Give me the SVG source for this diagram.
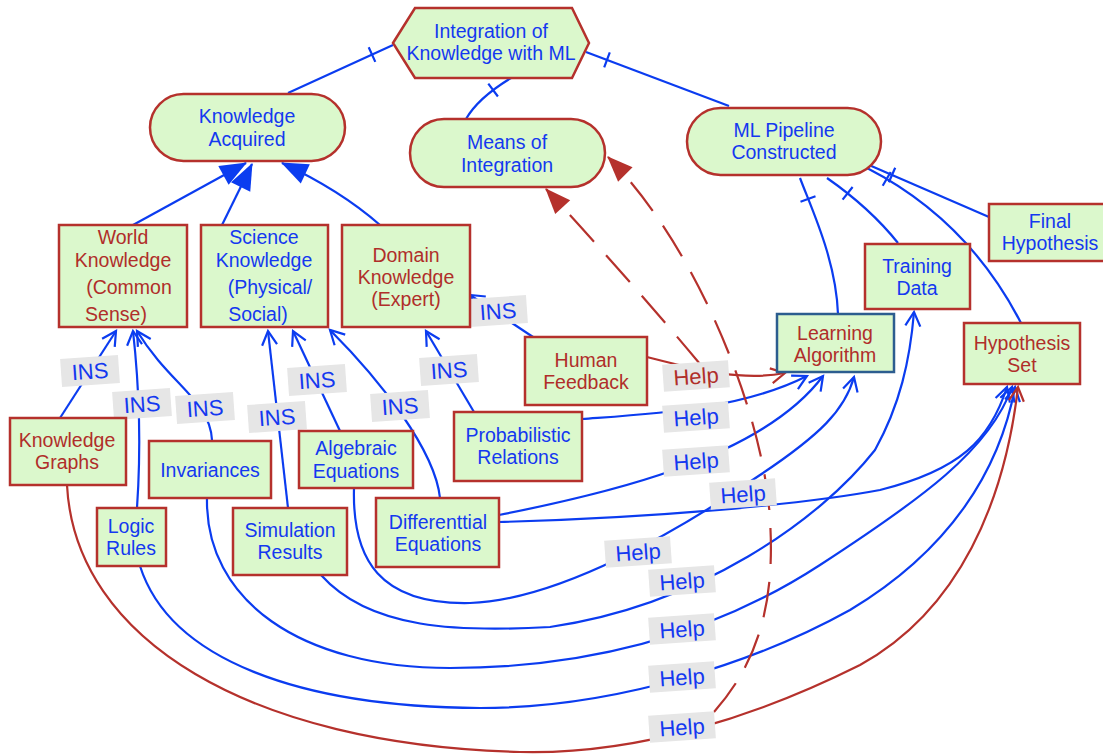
<svg xmlns="http://www.w3.org/2000/svg" width="1103" height="754" viewBox="0 0 1103 754">
<style>
.n rect,.n polygon{fill:#dbf8cc;stroke:#b5312c;stroke-width:2.5}
text{font-family:"Liberation Sans",Arial,Helvetica,sans-serif;font-size:19.5px;text-anchor:middle}
.b{fill:#1438f0}
.r{fill:#b02e2a}
.e{fill:none;stroke:#0b3cf0;stroke-width:2.2}
.er{fill:none;stroke:#b5312c;stroke-width:2.2}
.d{fill:none;stroke:#b5312c;stroke-width:2.2;stroke-dasharray:36 18}
.lab rect{fill:#e6e6e6}
.lab text{font-size:22px}
</style>
<defs>
<marker id="fb" markerUnits="userSpaceOnUse" orient="auto" refX="0" refY="0" markerWidth="30" markerHeight="30" viewBox="-26 -12 28 24" overflow="visible"><path d="M1,0 L-24,-10 L-24,10 Z" fill="#0b3cf0"/></marker>
<marker id="ob" markerUnits="userSpaceOnUse" orient="auto" refX="0" refY="0" markerWidth="20" markerHeight="20" viewBox="-16 -10 18 20" overflow="visible"><path d="M-14,-7.5 L0,0 L-14,7.5" fill="none" stroke="#0b3cf0" stroke-width="2.2"/></marker>
<marker id="or" markerUnits="userSpaceOnUse" orient="auto" refX="0" refY="0" markerWidth="20" markerHeight="20" viewBox="-16 -10 18 20" overflow="visible"><path d="M-14,-7.5 L0,0 L-14,7.5" fill="none" stroke="#b5312c" stroke-width="2.2"/></marker>
<marker id="fr" markerUnits="userSpaceOnUse" orient="auto" refX="0" refY="0" markerWidth="30" markerHeight="30" viewBox="-26 -12 28 24" overflow="visible"><path d="M1,0 L-23,-9.5 L-23,9.5 Z" fill="#b5312c"/></marker>
</defs>

<g id="connectors">
<path class="e" d="M393,45 L288,93"/>
<path class="e" d="M511,78 Q478,98 466,119"/>
<path class="e" d="M586,52 L729,106"/>
<path class="e" d="M800,178 C812,210 836,260 838,314"/>
<path class="e" d="M827,178 Q870,208 898,243"/>
<path class="e" d="M867,168 Q968,220 1021,323"/>
<path class="e" d="M869,165 L989,217"/>
<path class="e" d="M368.7,47.3 L375.3,61.9 M488.3,83.7 L497.9,96.5 M609.8,52.4 L604.2,67.4 M800.5,201.8 L815.5,196.2 M842.6,199.6 L852.6,187 M882.7,185.8 L890.7,172 M888.8,182.3 L895.2,167.7"/>

<path class="e" d="M133,225 L246,163" marker-end="url(#fb)"/>
<path class="e" d="M222,225 L252,164" marker-end="url(#fb)"/>
<path class="e" d="M380,225 Q340,190 282,163" marker-end="url(#fb)"/>

<path class="e" d="M60,418 L116,331" marker-end="url(#ob)"/>
<path class="e" d="M137,508 Q143,420 133,331" marker-end="url(#ob)"/>
<path class="e" d="M212,440 C210,400 170,385 137,331" marker-end="url(#ob)"/>
<path class="e" d="M288,508 L268,331" marker-end="url(#ob)"/>
<path class="e" d="M340,431 L293,331" marker-end="url(#ob)"/>
<path class="e" d="M440,498 C435,450 380,380 330,330" marker-end="url(#ob)"/>
<path class="e" d="M474,412 L426,331" marker-end="url(#ob)"/>
<path class="e" d="M533,337 L470,295" marker-end="url(#ob)"/>

<path class="er" d="M647,357 C690,368 740,382 785,373" marker-end="url(#or)"/>
<path class="e" d="M582,419 C650,414 740,410 807,376" marker-end="url(#ob)"/>
<path class="e" d="M499,515 C600,495 760,460 823,376" marker-end="url(#ob)"/>
<path class="e" d="M354,488 C352,560 380,605 470,603 C560,600 680,530 760,475 C820,435 845,410 854,377" marker-end="url(#ob)"/>
<path class="e" d="M321,575 C370,630 460,632 550,627 C700,605 820,520 875,450 C900,405 910,360 914,312" marker-end="url(#ob)"/>
<path class="e" d="M499,522 C650,518 800,505 880,490 C960,470 990,440 1007,387" marker-end="url(#ob)"/>
<path class="e" d="M207,498 C205,600 300,668 450,668 C600,668 720,630 820,565 C920,500 990,450 1012,387" marker-end="url(#ob)"/>
<path class="e" d="M140,566 C170,660 300,707 480,708 C620,708 760,660 850,610 C950,550 1000,470 1015,387" marker-end="url(#ob)"/>
<path class="er" d="M67,485 C75,640 250,745 520,752 C640,755 760,715 860,665 C960,610 1005,500 1018,387" marker-end="url(#or)"/>

<path class="d" d="M700,364 Q630,280 546,189" marker-end="url(#fr)"/>
<path class="d" d="M714,712 C760,660 775,600 770,520 C765,420 700,250 608,157" marker-end="url(#fr)"/>
</g>

<g id="labels" class="lab">
<g transform="translate(90,371) rotate(-4)"><rect x="-29" y="-14" width="58" height="28"/><text class="b" y="8">INS</text></g>
<g transform="translate(142,404) rotate(-4)"><rect x="-29" y="-14" width="58" height="28"/><text class="b" y="8">INS</text></g>
<g transform="translate(205,408) rotate(-4)"><rect x="-29" y="-14" width="58" height="28"/><text class="b" y="8">INS</text></g>
<g transform="translate(277,417) rotate(-4)"><rect x="-29" y="-14" width="58" height="28"/><text class="b" y="8">INS</text></g>
<g transform="translate(317,380) rotate(-4)"><rect x="-29" y="-14" width="58" height="28"/><text class="b" y="8">INS</text></g>
<g transform="translate(400,406) rotate(-4)"><rect x="-29" y="-14" width="58" height="28"/><text class="b" y="8">INS</text></g>
<g transform="translate(449,370) rotate(-4)"><rect x="-29" y="-14" width="58" height="28"/><text class="b" y="8">INS</text></g>
<g transform="translate(498,311) rotate(-4)"><rect x="-29" y="-14" width="58" height="28"/><text class="b" y="8">INS</text></g>

<g transform="translate(696,376) rotate(-4)"><rect x="-33" y="-13.5" width="66" height="27"/><text class="r" y="8">Help</text></g>
<g transform="translate(696,417) rotate(-4)"><rect x="-33" y="-13.5" width="66" height="27"/><text class="b" y="8">Help</text></g>
<g transform="translate(696,461) rotate(-4)"><rect x="-33" y="-13.5" width="66" height="27"/><text class="b" y="8">Help</text></g>
<g transform="translate(743,494) rotate(-4)"><rect x="-33" y="-13.5" width="66" height="27"/><text class="b" y="8">Help</text></g>
<g transform="translate(638,552) rotate(-4)"><rect x="-33" y="-13.5" width="66" height="27"/><text class="b" y="8">Help</text></g>
<g transform="translate(682,581) rotate(-4)"><rect x="-33" y="-13.5" width="66" height="27"/><text class="b" y="8">Help</text></g>
<g transform="translate(682,629) rotate(-4)"><rect x="-33" y="-13.5" width="66" height="27"/><text class="b" y="8">Help</text></g>
<g transform="translate(682,677) rotate(-4)"><rect x="-33" y="-13.5" width="66" height="27"/><text class="b" y="8">Help</text></g>
<g transform="translate(682,727) rotate(-4)"><rect x="-33" y="-13.5" width="66" height="27"/><text class="b" y="8">Help</text></g>
</g>

<g id="integration" class="n"><polygon points="393,43 415,8 572,8 589,43 572,78 415,78"/><text class="b" x="491" y="38">Integration of</text><text class="b" x="491" y="60">Knowledge with ML</text></g>
<g id="knowledge-acquired" class="n"><rect x="150" y="94" width="195" height="67" rx="33.5"/><text class="b" x="247" y="123">Knowledge</text><text class="b" x="247" y="146">Acquired</text></g>
<g id="means" class="n"><rect x="410" y="119" width="195" height="68" rx="34"/><text class="b" x="507" y="149">Means of</text><text class="b" x="507" y="172">Integration</text></g>
<g id="ml-pipeline" class="n"><rect x="687" y="108" width="194" height="67" rx="33.5"/><text class="b" x="784" y="137">ML Pipeline</text><text class="b" x="784" y="159">Constructed</text></g>

<g id="world" class="n"><rect x="59" y="225" width="128" height="102"/><text class="r" x="123" y="244">World</text><text class="r" x="123" y="267">Knowledge</text><text class="r" x="129" y="294">(Common</text><text class="r" x="116" y="321">Sense)</text></g>
<g id="science" class="n"><rect x="201" y="225" width="127" height="102"/><text class="b" x="264" y="244">Science</text><text class="b" x="264" y="267">Knowledge</text><text class="b" x="270" y="294">(Physical/</text><text class="b" x="258" y="321">Social)</text></g>
<g id="domain" class="n"><rect x="342" y="225" width="128" height="102"/><text class="r" x="406" y="262">Domain</text><text class="r" x="406" y="284">Knowledge</text><text class="r" x="406" y="306">(Expert)</text></g>

<g id="final-hypothesis" class="n"><rect x="989" y="204" width="122" height="57"/><text class="b" x="1050" y="228">Final</text><text class="b" x="1050" y="250">Hypothesis</text></g>
<g id="training-data" class="n"><rect x="865" y="244" width="105" height="65"/><text class="b" x="917" y="273">Training</text><text class="b" x="917" y="295">Data</text></g>
<g id="learning-algorithm" class="n"><rect x="777" y="314" width="117" height="58" style="stroke:#2c5d8f"/><text class="r" x="835" y="340">Learning</text><text class="r" x="835" y="362">Algorithm</text></g>
<g id="hypothesis-set" class="n"><rect x="964" y="323" width="116" height="61"/><text class="r" x="1022" y="350">Hypothesis</text><text class="r" x="1022" y="372">Set</text></g>
<g id="human-feedback" class="n"><rect x="525" y="337" width="122" height="68"/><text class="r" x="586" y="367">Human</text><text class="r" x="586" y="389">Feedback</text></g>
<g id="probabilistic" class="n"><rect x="454" y="412" width="128" height="69"/><text class="b" x="518" y="442">Probabilistic</text><text class="b" x="518" y="464">Relations</text></g>
<g id="knowledge-graphs" class="n"><rect x="10" y="418" width="116" height="67"/><text class="r" x="67" y="447">Knowledge</text><text class="r" x="67" y="469">Graphs</text></g>
<g id="invariances" class="n"><rect x="149" y="441" width="122" height="57"/><text class="b" x="210" y="477">Invariances</text></g>
<g id="algebraic" class="n"><rect x="299" y="431" width="114" height="57"/><text class="b" x="356" y="455">Algebraic</text><text class="b" x="356" y="478">Equations</text></g>
<g id="logic-rules" class="n"><rect x="97" y="508" width="69" height="58"/><text class="b" x="131" y="533">Logic</text><text class="b" x="131" y="555">Rules</text></g>
<g id="simulation" class="n"><rect x="233" y="508" width="114" height="67"/><text class="b" x="290" y="537">Simulation</text><text class="b" x="290" y="559">Results</text></g>
<g id="differential" class="n"><rect x="376" y="498" width="123" height="69"/><text class="b" x="438" y="529">Differenttial</text><text class="b" x="438" y="551">Equations</text></g>
</svg>
